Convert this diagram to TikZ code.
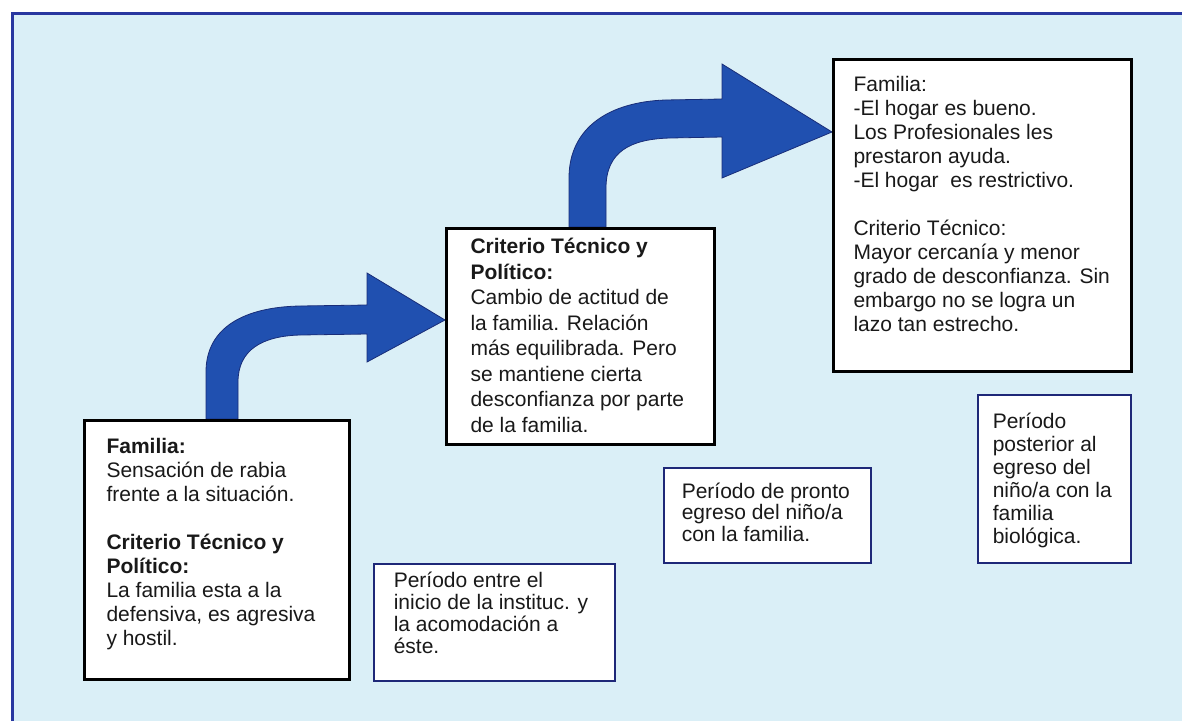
\documentclass[tikz,border=0pt]{standalone}
\usepackage{fontspec}
\setmainfont{Liberation Sans}
\usetikzlibrary{calc}
\definecolor{bgblue}{RGB}{218,239,247}
\definecolor{framebl}{RGB}{40,55,160}
\definecolor{arrowbl}{RGB}{32,80,176}
\definecolor{arrowedge}{RGB}{25,45,120}
\definecolor{navyline}{RGB}{30,40,120}
\definecolor{txt}{RGB}{25,25,25}
\newcommand\boxcontent[5]{\parbox[c][#1][t]{#2}{\fontsize{21pt}{#3}\selectfont\raggedright\vspace*{#4}#5\par}}
\tikzset{
  mainbox/.style={draw=black, line width=3pt, fill=white, inner ysep=0pt, anchor=north west, text=txt},
  periodbox/.style={draw=navyline, line width=1.5pt, fill=white, inner ysep=0pt, anchor=north west, text=txt},
  blockarrow/.style={fill=arrowbl, draw=arrowedge, line width=0.8pt, line join=miter},
}
\begin{document}
\begin{tikzpicture}[x=1pt,y=-1pt]
\useasboundingbox (0,0) rectangle (1182,721);
\fill[white] (0,0) rectangle (1182,721);
\fill[bgblue] (12,13) rectangle (1182,721);
\draw[framebl, line width=3pt] (12,721) -- (12,13) -- (1182,13);

% arrows
\draw[blockarrow] (206,419) -- (206,372) .. controls (206,327) and (245,307) .. (300,306) -- (367,305) -- (367,273) -- (445,320) -- (367,362) -- (367,334) -- (300,335) .. controls (262,336) and (238,350) .. (238,382) -- (238,419) -- cycle;
\draw[blockarrow] (569,227) -- (569,178) .. controls (569,127) and (610,102) .. (665,100) -- (722,99) -- (722,64) -- (832,132) -- (722,178) -- (722,137) -- (670,138) .. controls (630,139) and (606,152) .. (606,188) -- (606,227) -- cycle;

% boxes
\node[mainbox, inner xsep=22pt] (b1) at (83,419) {\boxcontent{259pt}{221pt}{24pt}{18pt}{\textbf{Familia:}\\ Sensación de rabia\\ frente a la situación.\\[24pt] \textbf{Criterio Técnico y}\\ \textbf{Político:}\\ La familia esta a la\\ defensiva, es agresiva\\ y hostil.}};

\node[periodbox, inner xsep=20pt] (b2) at (373,563) {\boxcontent{117pt}{201pt}{22pt}{8pt}{Período entre el\\ inicio de la instituc. y\\ la acomodación a\\ éste.}};

\node[mainbox, inner xsep=24pt] (b3) at (445,227) {\boxcontent{216pt}{220pt}{25.5pt}{10pt}{\textbf{Criterio Técnico y}\\ \textbf{Político:}\\ Cambio de actitud de\\ la familia. Relación\\ más equilibrada. Pero\\ se mantiene cierta\\ desconfianza por parte\\ de la familia.}};

\node[periodbox, inner xsep=18pt] (b4) at (663,467) {\boxcontent{95pt}{171pt}{21.5pt}{15pt}{Período de pronto\\ egreso del niño/a\\ con la familia.}};

\node[mainbox, inner xsep=20pt] (b5) at (832,58) {\boxcontent{312pt}{258pt}{24pt}{17pt}{Familia:\\ -El hogar es bueno.\\ Los Profesionales les\\ prestaron ayuda.\\ -El hogar\ \ es restrictivo.\\[24pt] Criterio Técnico:\\ Mayor cercanía y menor\\ grado de desconfianza. Sin\\ embargo no se logra un\\ lazo tan estrecho.}};

\node[periodbox, inner xsep=15pt] (b6) at (977,394) {\boxcontent{168pt}{123pt}{23pt}{18pt}{Período\\ posterior al\\ egreso del\\ niño/a con la\\ familia\\ biológica.}};
\end{tikzpicture}
\end{document}
